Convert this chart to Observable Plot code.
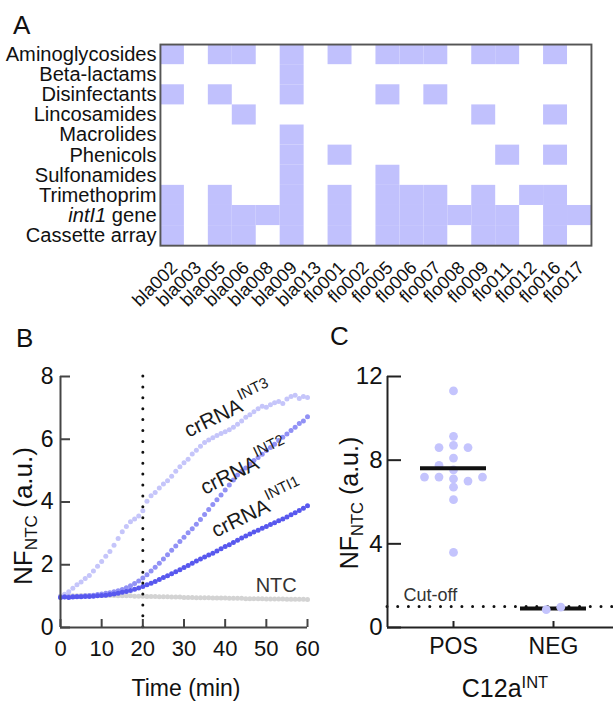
<!DOCTYPE html>
<html><head><meta charset="utf-8">
<script src="https://cdn.jsdelivr.net/npm/d3@7"></script>
<script src="https://cdn.jsdelivr.net/npm/@observablehq/plot@0.6"></script>
<style>
html,body{margin:0;padding:0;background:#fff;}
#root{position:relative;width:613px;height:702px;overflow:hidden;font-family:"Liberation Sans",Arial,Helvetica,sans-serif;color:#111;}
.title{position:absolute;font-size:26px;line-height:1;}
.lab{position:absolute;white-space:nowrap;line-height:1;transform:translate(-50%,-50%);}
.rot{transform:translate(-50%,-50%) rotate(-90deg);}
.lab sub{font-size:0.66em;line-height:0;position:relative;top:0.3em;vertical-align:baseline;}
.lab sup{font-size:0.66em;line-height:0;position:relative;top:-0.55em;vertical-align:baseline;}
</style></head>
<body><div id="root"></div>
<script>
// ---------- Panel A data ----------
const categories = ["Aminoglycosides","Beta-lactams","Disinfectants","Lincosamides","Macrolides","Phenicols","Sulfonamides","Trimethoprim","intI1 gene","Cassette array"];
const samples = ["bla002","bla003","bla005","bla006","bla008","bla009","bla013","flo001","flo002","flo005","flo006","flo007","flo008","flo009","flo011","flo012","flo016","flo017"];
const aminoglycosides = [1,0,1,1,0,1,0,1,0,1,1,1,0,1,1,0,1,0];
const betaLactams     = [0,0,0,0,0,1,0,0,0,0,0,0,0,0,0,0,0,0];
const disinfectants   = [1,0,1,0,0,1,0,0,0,1,0,1,0,0,0,0,0,0];
const lincosamides    = [0,0,0,1,0,0,0,0,0,0,0,0,0,1,0,0,1,0];
const macrolides      = [0,0,0,0,0,1,0,0,0,0,0,0,0,0,0,0,0,0];
const phenicols       = [0,0,0,0,0,1,0,1,0,0,0,0,0,0,1,0,1,0];
const sulfonamides    = [0,0,0,0,0,1,0,0,0,1,0,0,0,0,0,0,0,0];
const trimethoprim    = [1,0,1,0,0,1,0,1,0,1,1,1,0,1,0,1,1,0];
const intI1Gene       = [1,0,1,1,1,1,0,1,0,1,1,1,1,1,1,0,1,1];
const cassetteArray   = [1,0,1,1,0,1,0,1,0,1,1,1,0,1,1,0,1,0];
const presence = [aminoglycosides,betaLactams,disinfectants,lincosamides,macrolides,phenicols,sulfonamides,trimethoprim,intI1Gene,cassetteArray];

// ---------- Panel B data (NF_NTC vs time, 1-min reads) ----------
const minutes = [0,1,2,3,4,5,6,7,8,9,10,11,12,13,14,15,16,17,18,19,20,21,22,23,24,25,26,27,28,29,30,31,32,33,34,35,36,37,38,39,40,41,42,43,44,45,46,47,48,49,50,51,52,53,54,55,56,57,58,59,60];
const ntc  = [1.00,1.00,1.01,1.01,1.01,1.02,1.02,1.02,1.02,1.02,1.02,1.02,1.02,1.02,1.01,1.01,1.01,1.01,1.00,1.00,1.00,0.99,0.99,0.99,0.98,0.98,0.98,0.97,0.97,0.97,0.96,0.96,0.96,0.95,0.95,0.95,0.95,0.94,0.94,0.94,0.94,0.93,0.93,0.93,0.93,0.92,0.92,0.92,0.92,0.92,0.91,0.91,0.91,0.91,0.91,0.90,0.90,0.90,0.90,0.90,0.89];
const int3 = [1.00,1.06,1.14,1.25,1.36,1.45,1.56,1.66,1.80,1.95,2.10,2.27,2.42,2.62,2.84,3.05,3.22,3.37,3.46,3.55,3.72,4.02,4.20,4.30,4.45,4.57,4.68,4.82,4.98,5.12,5.25,5.36,5.53,5.65,5.78,5.90,5.98,6.05,6.12,6.18,6.24,6.30,6.38,6.48,6.58,6.70,6.78,6.88,6.97,7.05,7.02,7.10,7.16,7.20,7.14,7.28,7.36,7.40,7.30,7.36,7.33];
const int2 = [0.97,0.98,0.98,0.99,0.99,1.00,1.01,1.02,1.03,1.05,1.07,1.09,1.11,1.14,1.17,1.21,1.27,1.33,1.40,1.48,1.58,1.68,1.80,1.92,2.05,2.18,2.32,2.46,2.60,2.74,2.88,3.02,3.15,3.29,3.44,3.60,3.76,3.92,4.07,4.22,4.38,4.54,4.70,4.86,4.98,5.08,5.20,5.32,5.42,5.52,5.64,5.74,5.84,5.96,6.06,6.17,6.28,6.38,6.50,6.58,6.72];
const int1 = [0.96,0.97,0.96,0.97,0.98,0.98,0.99,0.99,1.00,1.01,1.02,1.03,1.05,1.07,1.09,1.12,1.15,1.18,1.22,1.26,1.31,1.36,1.41,1.47,1.53,1.59,1.65,1.71,1.78,1.84,1.91,1.98,2.05,2.12,2.18,2.25,2.31,2.37,2.44,2.51,2.58,2.64,2.71,2.78,2.85,2.92,2.98,3.04,3.10,3.16,3.22,3.28,3.34,3.40,3.46,3.52,3.59,3.66,3.73,3.80,3.88];
const seriesNames = ["NTC","INT3","INT2","INT1"];
const seriesValues = [ntc, int3, int2, int1];
const xTicksB = [0,10,20,30,40,50,60];
const yTicksB = [0,2,4,6,8];
const readTime = 20;
const curveLabels = [
  {t: 30.4, v: 6.24, text: "crRNA^INT3"},
  {t: 34.3, v: 4.42, text: "crRNA^INT2"},
  {t: 37.0, v: 3.05, text: "crRNA^INTI1"}
];
const ntcLabel = [{t: 52.4, v: 1.34, text: "NTC"}];

// ---------- Panel C data ----------
const groups = ["POS","NEG"];
const posValues = [11.31,9.14,8.71,8.60,8.60,8.10,7.75,7.54,7.11,7.19,7.00,7.19,7.19,6.71,6.11,3.59];
const negValues = [0.97,0.85];
const cutoff = 1.0;
const yTicksC = [0,4,8,12];

// ---------- styles ----------
const FONT = '"Liberation Sans", Arial, Helvetica, sans-serif';
const HEAT = "#c1c1fd";
const SERIES_COLORS = ["#d3d3d3","#c5c5fa","#9191f5","#5858ee"];
const DOT_C = "#c4c4fd";
const AXIS = "#444";

const root = document.getElementById("root");
const SVGNS = "http://www.w3.org/2000/svg";
function place(node, left, top) {
  node.style.position = "absolute";
  node.style.left = left + "px";
  node.style.top = top + "px";
  root.appendChild(node);
}
function richText(svg) {
  svg.querySelectorAll("text").forEach(t => {
    const s = t.textContent;
    if (s.includes("^")) {
      const [base, sup] = s.split("^");
      t.textContent = "";
      t.appendChild(document.createTextNode(base));
      const ts = document.createElementNS(SVGNS, "tspan");
      ts.setAttribute("dy", "-11");
      ts.setAttribute("dx", "1");
      ts.setAttribute("font-size", "15");
      ts.textContent = sup;
      t.appendChild(ts);
    } else if (s === "intI1 gene") {
      t.textContent = "";
      const it = document.createElementNS(SVGNS, "tspan");
      it.setAttribute("font-style", "italic");
      it.textContent = "intI1";
      t.appendChild(it);
      t.appendChild(document.createTextNode(" gene"));
    }
  });
}
function htmlLabel(html, cx, cy, size, rotate) {
  const d = document.createElement("div");
  d.className = "lab" + (rotate ? " rot" : "");
  d.style.left = cx + "px"; d.style.top = cy + "px"; d.style.fontSize = size + "px";
  d.innerHTML = html;
  root.appendChild(d);
}
function title(txt, left, top) {
  const d = document.createElement("div");
  d.className = "title"; d.textContent = txt;
  d.style.left = left + "px"; d.style.top = top + "px";
  root.appendChild(d);
}

// ---------- Panel A ----------
const cells = categories.flatMap((c, i) => samples.map((s, j) => ({category: c, sample: s, present: presence[i][j]}))).filter(d => d.present);
const plotA = Plot.plot({
  width: 640, height: 340,
  marginLeft: 167, marginRight: 23, marginTop: 46, marginBottom: 84,
  style: {fontFamily: FONT, color: "#111", background: "transparent", overflow: "visible"},
  x: {domain: samples, padding: 0},
  y: {domain: categories, padding: 0},
  marks: [
    Plot.cell(cells, {x: "sample", y: "category", fill: HEAT, inset: 0}),
    Plot.frame({stroke: "#555", strokeWidth: 2}),
    Plot.axisX({anchor: "bottom", tickSize: 0, tickRotate: -45, tickPadding: 20, dx: 2, fontSize: 19, label: null}),
    Plot.axisY({anchor: "left", tickSize: 0, tickPadding: 4, fontSize: 21, label: null})
  ]
});
richText(plotA);
place(plotA, 0, 0);

// ---------- Panel B ----------
const pointsB = seriesNames.flatMap((name, k) => minutes.map((t, i) => ({series: name, t, v: seriesValues[k][i]})));
const plotB = Plot.plot({
  width: 320, height: 362,
  marginLeft: 60, marginRight: 13, marginTop: 36, marginBottom: 75,
  style: {fontFamily: FONT, color: "#111", background: "transparent", overflow: "visible"},
  x: {domain: [0, 60]},
  y: {domain: [0, 8]},
  color: {domain: seriesNames, range: SERIES_COLORS},
  marks: [
    Plot.dot(pointsB, {x: "t", y: "v", fill: "series", r: 2.5}),
    Plot.ruleX([readTime], {stroke: "#111", strokeWidth: 3, strokeLinecap: "round", strokeDasharray: "0 10.9"}),
    Plot.ruleX([0], {stroke: AXIS, strokeWidth: 2}),
    Plot.ruleY([0], {stroke: AXIS, strokeWidth: 2}),
    Plot.axisX({ticks: xTicksB, tickSize: -8, tickPadding: 21, fontSize: 22, stroke: AXIS, strokeWidth: 2, label: null}),
    Plot.axisY({ticks: yTicksB, tickSize: -10, tickPadding: 17, fontSize: 23, stroke: AXIS, strokeWidth: 2, label: null}),
    Plot.text(curveLabels, {x: "t", y: "v", text: "text", rotate: -26, textAnchor: "start", fontSize: 21, fill: "#1a1a1a"}),
    Plot.text(ntcLabel, {x: "t", y: "v", text: "text", fontSize: 20, fill: "#333"})
  ]
});
richText(plotB);
place(plotB, 0, 340);

// ---------- Panel C ----------
const plotHeightC = 362 - 36 - 75;
const pxPerUnitC = plotHeightC / (yTicksC[yTicksC.length - 1] - yTicksC[0]);
const dotR = 4.4;
const thr = (2 * dotR - 0.8) / pxPerUnitC;
const slotW = 0.145;
function swarm(values, center) {
  const n = values.length;
  const allCollide = n > 1 && values.every((a, i) => values.every((b, j) => i === j || Math.abs(a - b) < thr));
  if (allCollide) {
    return values.slice().sort((a, b) => a - b).map((v, k) => ({v, x: center + (k - (n - 1) / 2) * slotW}));
  }
  const cands = [0, -1, 1, -2, 2, -3, 3, -4, 4];
  const placed = [];
  for (const v of values) {
    const slot = cands.find(s => placed.every(p => p.slot !== s || Math.abs(p.v - v) >= thr));
    placed.push({v, slot});
  }
  return placed.map(p => ({v: p.v, x: center + p.slot * slotW}));
}
const groupValues = [posValues, negValues];
const swarmPts = groups.map((g, i) => swarm(groupValues[i], i + 1).map(d => ({...d, group: g})));
const means = groups.map((g, i) => ({group: g, pos: i + 1, mean: d3.mean(groupValues[i])}));
const xDomC = [0.34, 2.66];
const plotC = Plot.plot({
  width: 300, height: 362,
  marginLeft: 57, marginRight: 11, marginTop: 36, marginBottom: 75,
  style: {fontFamily: FONT, color: "#111", background: "transparent", overflow: "visible"},
  x: {domain: xDomC},
  y: {domain: [0, 12]},
  marks: [
    Plot.ruleY([cutoff], {stroke: "#111", strokeWidth: 3, strokeLinecap: "round", strokeDasharray: "0 10.7"}),
    Plot.text(["Cut-off"], {x: 0.5, y: cutoff, text: d => d, dy: -11, textAnchor: "start", fontSize: 18, fill: "#333"}),
    Plot.dot(swarmPts[0], {x: "x", y: "v", r: dotR, fill: DOT_C}),
    Plot.ruleY(means, {y: "mean", x1: d => d.pos - 0.33, x2: d => d.pos + 0.33, stroke: "#111", strokeWidth: 4}),
    Plot.dot(swarmPts[1], {x: "x", y: "v", r: dotR, fill: DOT_C}),
    Plot.ruleX([xDomC[0]], {stroke: "#222", strokeWidth: 2}),
    Plot.ruleY([0], {stroke: "#222", strokeWidth: 2}),
    Plot.axisX({ticks: [1, 2], tickFormat: i => groups[i - 1], tickSize: -6, tickPadding: 16, fontSize: 23, stroke: "#222", strokeWidth: 2, label: null}),
    Plot.axisY({ticks: yTicksC, tickSize: -14, tickPadding: 19, fontSize: 24, stroke: "#222", strokeWidth: 2, label: null})
  ]
});
place(plotC, 330, 340);

// ---------- titles & axis labels ----------
title("A", 13, 12);
title("B", 16, 325);
title("C", 330, 323);
htmlLabel("NF<sub>NTC</sub> (a.u.)", 23, 516, 26, true);
htmlLabel("Time (min)", 186, 688, 23, false);
htmlLabel("NF<sub>NTC</sub> (a.u.)", 349, 503, 25, true);
htmlLabel("C12a<sup>INT</sup>", 505, 688, 25, false);
</script>
</body></html>
